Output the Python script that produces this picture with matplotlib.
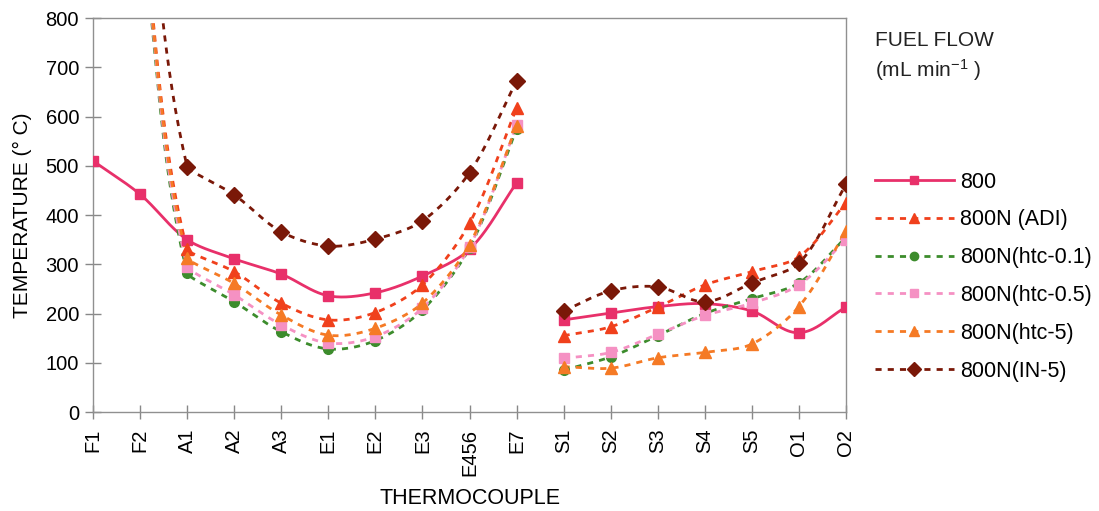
import numpy as np
import matplotlib
matplotlib.use("Agg")
import matplotlib.pyplot as plt
from matplotlib.lines import Line2D

plt.rcParams["font.family"] = ["Liberation Sans", "DejaVu Sans"]
plt.rcParams["mathtext.fontset"] = "custom"
plt.rcParams["mathtext.rm"] = "Liberation Sans"
plt.rcParams["mathtext.default"] = "regular"

thermocouples = ["F1", "F2", "A1", "A2", "A3", "E1", "E2", "E3", "E456", "E7",
                 "S1", "S2", "S3", "S4", "S5", "O1", "O2"]
# first section F1..E7, second section S1..O2 (plotted as separate curves)
nan = np.nan
t_800 = [510, 442, 350, 311, 280, 236, 242, 276, 330, 465,
         187, 201, 214, 220, 205, 161, 213]
t_adi = [nan, 1040, 330, 285, 221, 187, 202, 258, 383, 617,
         155, 173, 213, 258, 285, 315, 425]
t_htc01 = [nan, 1010, 282, 224, 163, 128, 145, 207, 333, 575,
           85, 112, 155, 200, 230, 262, 355]
t_htc05 = [nan, 1020, 295, 238, 177, 140, 153, 211, 335, 582,
           109, 121, 158, 196, 221, 258, 350]
t_htc5 = [nan, 1030, 313, 261, 197, 156, 170, 221, 340, 581,
          92, 89, 110, 121, 138, 214, 367]
t_in5 = [nan, 1250, 498, 441, 366, 337, 351, 388, 486, 672,
         205, 246, 254, 224, 262, 302, 462]

series_names = ["800", "800N (ADI)", "800N(htc-0.1)", "800N(htc-0.5)",
                "800N(htc-5)", "800N(IN-5)"]
series_values = [t_800, t_adi, t_htc01, t_htc05, t_htc5, t_in5]
colors = ["#E8306A", "#F0401C", "#3C8C2C", "#F591C3", "#F57A25", "#7A1808"]
markers = ["s", "^", "o", "s", "^", "D"]
msizes = [7, 8, 7, 7, 8, 8]
styles = ["-", (0, (2.2, 2.2)), (0, (2.2, 2.2)), (0, (2.2, 2.2)),
          (0, (2.2, 2.2)), (0, (2.2, 2.2))]
sections = [(0, 10), (10, 17)]

# approximate screen scale (pixels per x step, pixels per degree)
SX, SY = 47.0, 0.4925


def smooth_run(xs, ys, n=40):
    """Bezier smoothing through the points; control arms are scaled by
    neighbouring segment lengths so steep runs do not overshoot."""
    xs = np.asarray(xs, float) * SX
    ys = np.asarray(ys, float) * SY
    P = np.column_stack([xs, ys])
    m = len(P)
    tang = []
    for i in range(m):
        i0 = max(i - 1, 0)
        i1 = min(i + 1, m - 1)
        tang.append(P[i1] - P[i0])
    seg = [np.hypot(*(P[i + 1] - P[i])) for i in range(m - 1)]
    out = []
    for i in range(m - 1):
        lp = seg[i - 1] if i > 0 else seg[i]
        ln = seg[i + 1] if i + 1 < m - 1 else seg[i]
        d1 = tang[i] / (np.hypot(*tang[i]) + 1e-9)
        d2 = tang[i + 1] / (np.hypot(*tang[i + 1]) + 1e-9)
        w1 = seg[i] / 3.0 * min(1.0, 2 * seg[i] / (lp + seg[i]))
        w2 = seg[i] / 3.0 * min(1.0, 2 * seg[i] / (ln + seg[i]))
        c1 = P[i] + d1 * w1
        c2 = P[i + 1] - d2 * w2
        t = np.linspace(0, 1, n)[:, None]
        pts = ((1 - t) ** 3) * P[i] + 3 * ((1 - t) ** 2) * t * c1 \
            + 3 * (1 - t) * t ** 2 * c2 + t ** 3 * P[i + 1]
        out.append(pts)
    out = np.vstack(out)
    return out[:, 0] / SX, out[:, 1] / SY


fig = plt.figure(figsize=(10.99, 5.11), dpi=100)
ax = fig.add_axes([93 / 1099, 99 / 511, (846 - 93) / 1099, (412 - 18) / 511])

x = np.arange(len(thermocouples))
handles = []
for vals, name, c, mk, ms, ls in zip(series_values, series_names, colors,
                                     markers, msizes, styles):
    vals = np.asarray(vals, float)
    for a, b in sections:
        xx = x[a:b]
        vv = vals[a:b]
        ok = ~np.isnan(vv)
        sx, sy = smooth_run(xx[ok], vv[ok])
        ax.plot(sx, sy, color=c, lw=2.0, linestyle=ls, zorder=2)
        ax.plot(xx[ok], vv[ok], linestyle="none", marker=mk, ms=ms,
                color=c, mec=c, zorder=3)
    handles.append(Line2D([], [], color=c, lw=2.0, linestyle=ls, marker=mk,
                          ms=ms - 1, mec=c, label=name))

ax.set_xlim(0, len(thermocouples) - 1)
ax.set_ylim(0, 800)
ax.set_yticks(np.arange(0, 801, 100))
ax.set_xticks(x)
ax.set_xticklabels(thermocouples, rotation=90, fontsize=14.5)
ax.tick_params(axis="y", labelsize=14.5, direction="inout", length=12,
               color="#888888", width=1, pad=4)
ax.tick_params(axis="x", direction="inout", length=10, color="#888888",
               width=1, pad=7)
for s in ax.spines.values():
    s.set_color("#909090")
    s.set_linewidth(1.0)

ax.set_xlabel("THERMOCOUPLE", fontsize=15.5, labelpad=9)
ax.set_ylabel("TEMPERATURE (° C)", fontsize=15, labelpad=10)

fig.text(875 / 1099, 1 - 40 / 511, "FUEL FLOW", fontsize=15, va="center",
         ha="left", color="#222222")
fig.text(875 / 1099, 1 - 70 / 511, "(mL min$^{-1}$ )", fontsize=15,
         va="center", ha="left", color="#222222")

fig.legend(handles=handles, loc="upper left",
           bbox_to_anchor=(866 / 1099, 1 - 163 / 511), frameon=False,
           fontsize=15.5, handlelength=3.7, handletextpad=0.25,
           labelspacing=0.78, borderaxespad=0)

fig.savefig("out.png", dpi=100, facecolor="white")
